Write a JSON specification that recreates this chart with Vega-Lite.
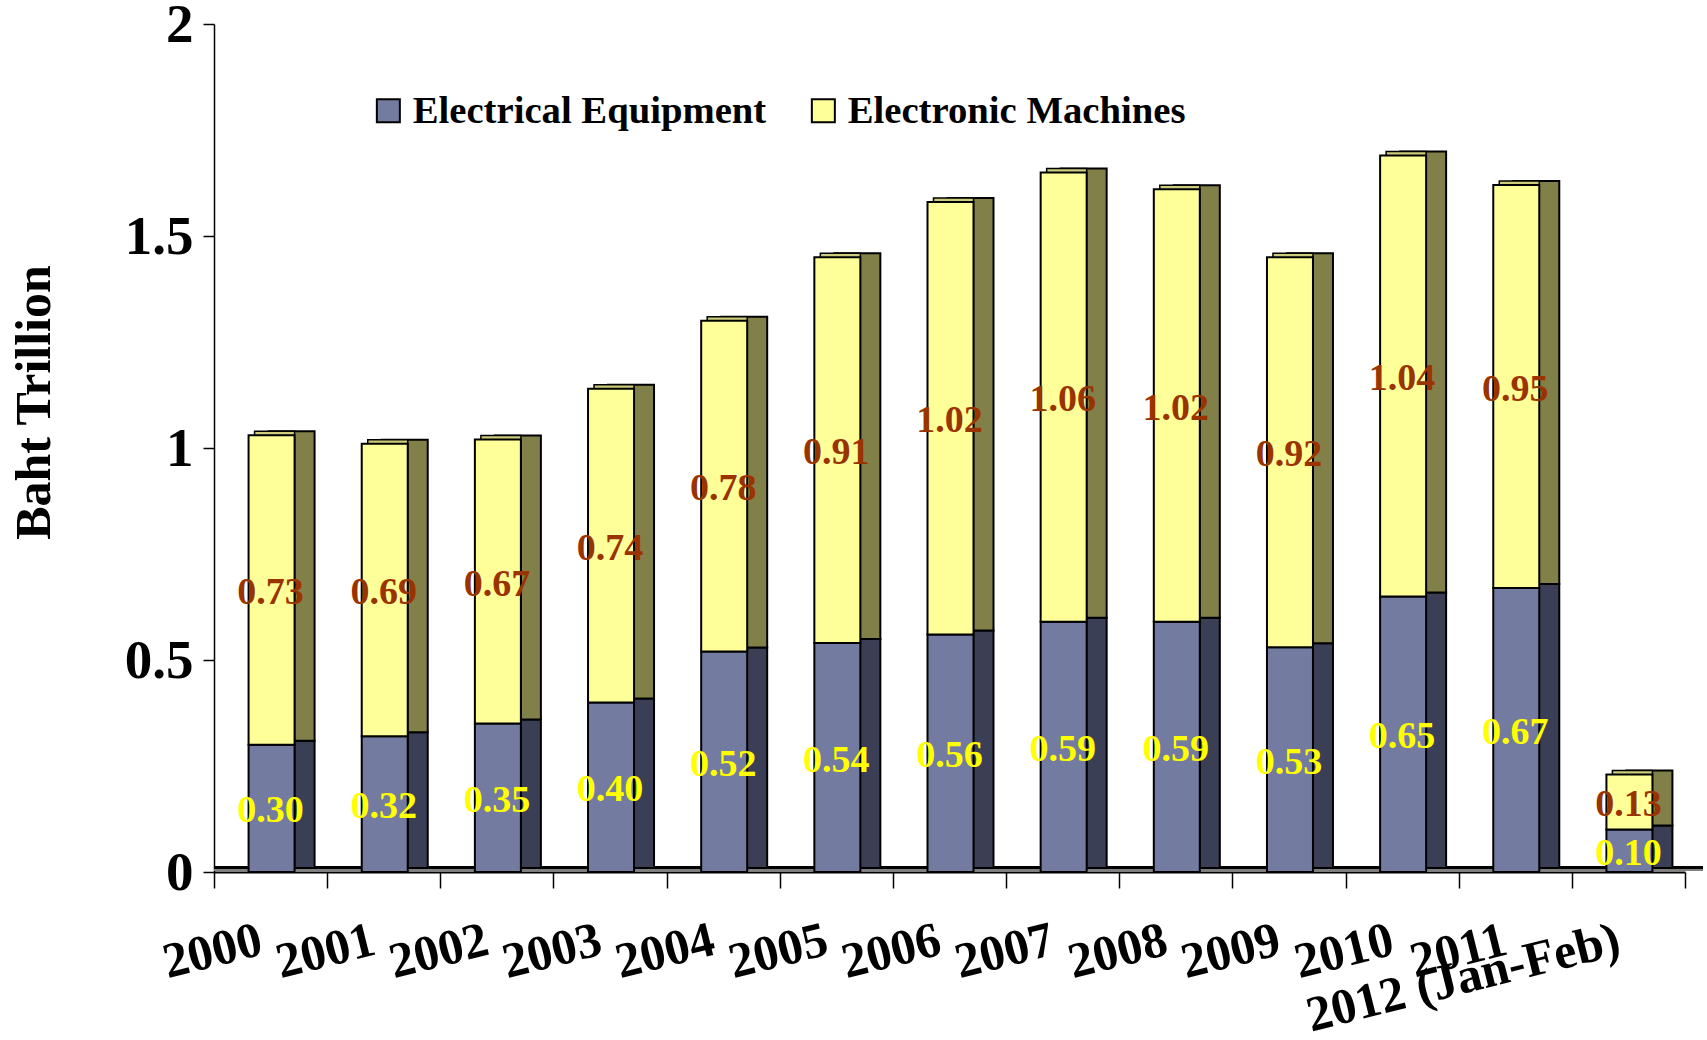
{"$schema":"https://vega.github.io/schema/vega-lite/v6.json","width":1471,"height":848,"autosize":{"type":"none"},"padding":{"left":214,"top":24,"right":22,"bottom":168},"background":"white","config":{"view":{"stroke":null},"font":"Liberation Serif"},
"data":{"values":[
{"year":"2000","series":"Electrical Equipment","value":0.30},{"year":"2000","series":"Electronic Machines","value":0.73},
{"year":"2001","series":"Electrical Equipment","value":0.32},{"year":"2001","series":"Electronic Machines","value":0.69},
{"year":"2002","series":"Electrical Equipment","value":0.35},{"year":"2002","series":"Electronic Machines","value":0.67},
{"year":"2003","series":"Electrical Equipment","value":0.40},{"year":"2003","series":"Electronic Machines","value":0.74},
{"year":"2004","series":"Electrical Equipment","value":0.52},{"year":"2004","series":"Electronic Machines","value":0.78},
{"year":"2005","series":"Electrical Equipment","value":0.54},{"year":"2005","series":"Electronic Machines","value":0.91},
{"year":"2006","series":"Electrical Equipment","value":0.56},{"year":"2006","series":"Electronic Machines","value":1.02},
{"year":"2007","series":"Electrical Equipment","value":0.59},{"year":"2007","series":"Electronic Machines","value":1.06},
{"year":"2008","series":"Electrical Equipment","value":0.59},{"year":"2008","series":"Electronic Machines","value":1.02},
{"year":"2009","series":"Electrical Equipment","value":0.53},{"year":"2009","series":"Electronic Machines","value":0.92},
{"year":"2010","series":"Electrical Equipment","value":0.65},{"year":"2010","series":"Electronic Machines","value":1.04},
{"year":"2011","series":"Electrical Equipment","value":0.67},{"year":"2011","series":"Electronic Machines","value":0.95},
{"year":"2012 (Jan-Feb)","series":"Electrical Equipment","value":0.10},{"year":"2012 (Jan-Feb)","series":"Electronic Machines","value":0.13}
]},
"encoding":{
"x":{"field":"year","type":"nominal","sort":null,"scale":{"paddingInner":0,"paddingOuter":0},"title":null,"axis":{"tickBand":"extent","labelAngle":-14,"labelAlign":"right","labelBaseline":"middle","labelFont":"Liberation Serif","labelFontWeight":"bold","labelFontSize":50,"labelColor":"#000","labelPadding":51,"labelOffset":-10,"labelLimit":800,"labelOverlap":false,"labelBound":false,"labelFlush":false,"tickSize":16,"tickColor":"#000","tickWidth":1.5,"domainColor":"#000","domainWidth":2,"grid":false}},
"y":{"field":"value","type":"quantitative","stack":"zero","scale":{"domain":[0,2],"nice":false},"title":"Baht Trillion","axis":{"values":[0,0.5,1,1.5,2],"labelExpr":"datum.value","labelFont":"Liberation Serif","labelFontWeight":"bold","labelFontSize":55,"labelColor":"#000","labelPadding":10,"tickSize":11,"tickColor":"#000","tickWidth":1.5,"domainColor":"#000","domainWidth":1.5,"grid":false,"titleFont":"Liberation Serif","titleFontWeight":"bold","titleFontSize":50,"titleColor":"#000","titleX":-180,"titleY":378,"titleAngle":-90,"titleAlign":"center","titleBaseline":"middle"}},
"order":{"field":"series","sort":"ascending"},
"detail":{"field":"series"}
},
"layer":[
{"mark":{"type":"rule","color":"#808080","strokeWidth":3,"yOffset":-2.5},"encoding":{"x":{"value":0},"x2":{"value":1489},"y":{"datum":0},"order":null,"detail":null}},
{"mark":{"type":"rule","color":"#000","strokeWidth":1.5,"yOffset":-4.5},"encoding":{"x":{"value":0},"x2":{"value":1489},"y":{"datum":0},"order":null,"detail":null}},
{"mark":{"type":"bar","size":46,"xOffset":21,"yOffset":-4,"stroke":"#000","strokeWidth":2},"encoding":{"color":{"condition":{"test":"datum.series==='Electrical Equipment'","value":"#3B3F56"},"value":"#808048"}}},
{"mark":{"type":"bar","size":40,"xOffset":4,"yOffset":-4,"stroke":"#000","strokeWidth":1.5},"encoding":{"color":{"condition":{"test":"datum.series==='Electrical Equipment'","value":"#737BA1"},"value":"#CCCC7A"}}},
{"mark":{"type":"bar","size":46,"xOffset":1,"stroke":"#000","strokeWidth":2},"encoding":{"color":{"field":"series","type":"nominal","scale":{"domain":["Electrical Equipment","Electronic Machines"],"range":["#737BA1","#FFFF99"]},"title":null,"legend":{"orient":"none","legendX":155,"legendY":67,"direction":"horizontal","symbolType":"square","symbolSize":529,"symbolStrokeColor":"#000","symbolStrokeWidth":2,"labelFont":"Liberation Serif","labelFontWeight":"bold","labelFontSize":38.7,"labelColor":"#000","labelLimit":500,"columnPadding":37,"labelOffset":5}}}},
{"mark":{"type":"text","font":"Liberation Serif","fontWeight":"bold","fontSize":38,"align":"center","baseline":"middle","dy":3},"encoding":{"y":{"field":"value","type":"quantitative","stack":"zero","bandPosition":0.5},"text":{"field":"value","type":"quantitative","format":".2f"},"color":{"condition":{"test":"datum.series==='Electrical Equipment'","value":"#FFFF00"},"value":"#993300"}}}
]}
